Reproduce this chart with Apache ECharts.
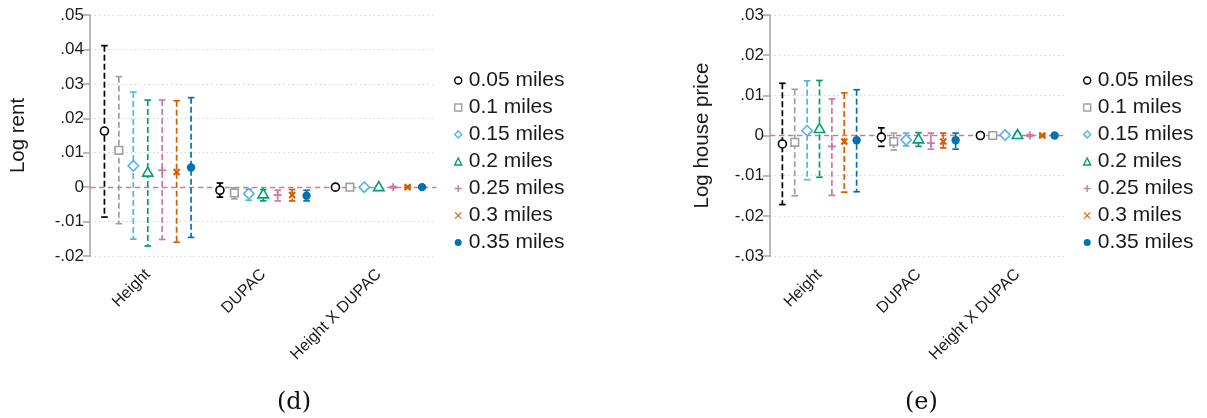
<!DOCTYPE html>
<html>
<head>
<meta charset="utf-8">
<script src="https://cdn.jsdelivr.net/npm/echarts@6/dist/echarts.min.js"></script>
<style>html,body{margin:0;padding:0;background:#fff}#c{width:1207px;height:418px}</style>
</head>
<body>
<div id="c"></div>
<script>
// ---- data ----
var categories = ['Height', 'DUPAC', 'Height X DUPAC'];
var seriesNames = ['0.05 miles', '0.1 miles', '0.15 miles', '0.2 miles', '0.25 miles', '0.3 miles', '0.35 miles'];
var colors = ['#000000', '#a0a0a0', '#56b4e9', '#009e73', '#cc79a7', '#d55e00', '#0072b2'];
var markers = ['hcircle', 'hsquare', 'hdiamond', 'htriangle', 'plus', 'cross', 'circle'];

// Log rent (panel d): per distance, values for Height, DUPAC, Height X DUPAC
var rentEst = [
  [0.0163, -0.0009, 0.0000],
  [0.0107, -0.0017, 0.0000],
  [0.0062, -0.0019, 0.0000],
  [0.0043, -0.0020, 0.0001],
  [0.0049, -0.0023, 0.0000],
  [0.0044, -0.0023, 0.0000],
  [0.0057, -0.0025, 0.0000]
];
var rentLo = [
  [-0.0087, -0.0029, -0.0003],
  [-0.0106, -0.0034, -0.0003],
  [-0.0151, -0.0038, -0.0003],
  [-0.0171, -0.0040, -0.0002],
  [-0.0152, -0.0040, -0.0002],
  [-0.0160, -0.0040, -0.0002],
  [-0.0146, -0.0040, -0.0002]
];
var rentHi = [
  [0.0411, 0.0012, 0.0003],
  [0.0321, -0.0002, 0.0003],
  [0.0276, -0.0006, 0.0003],
  [0.0253, -0.0007, 0.0004],
  [0.0253, -0.0009, 0.0002],
  [0.0251, -0.0007, 0.0002],
  [0.0260, -0.0009, 0.0002]
];

// Log house price (panel e)
var priceEst = [
  [-0.0021, -0.0004, 0.0000],
  [-0.0017, -0.0015, 0.0000],
  [0.0012, -0.0011, 0.0001],
  [0.0017, -0.0009, 0.0002],
  [-0.0027, -0.0019, 0.0000],
  [-0.0015, -0.0015, 0.0000],
  [-0.0012, -0.0012, 0.0000]
];
var priceLo = [
  [-0.0172, -0.0027, -0.0003],
  [-0.0150, -0.0036, -0.0003],
  [-0.0110, -0.0026, -0.0003],
  [-0.0104, -0.0027, -0.0002],
  [-0.0149, -0.0034, -0.0002],
  [-0.0141, -0.0031, -0.0002],
  [-0.0140, -0.0034, -0.0002]
];
var priceHi = [
  [0.0130, 0.0019, 0.0003],
  [0.0115, 0.0006, 0.0003],
  [0.0136, 0.0006, 0.0004],
  [0.0137, 0.0007, 0.0005],
  [0.0091, 0.0006, 0.0002],
  [0.0106, 0.0006, 0.0002],
  [0.0114, 0.0006, 0.0002]
];

var rentTicks = [-0.02, 0.05];
var priceTicks = [-0.03, 0.03];
var panelTitles = ['Log rent', 'Log house price'];
var panelLabels = ['(d)', '(e)'];

// ---- rendering ----
var chart = echarts.init(document.getElementById('c'), null, {renderer: 'canvas'});
var FONT = 'Liberation Sans, Arial, sans-serif';

function markerShape(kind, x, y, color) {
  var s = {stroke: color, lineWidth: 1.6, fill: '#fff'};
  switch (kind) {
    case 'hcircle': return {type: 'circle', shape: {cx: x, cy: y, r: 4}, style: s};
    case 'hsquare': return {type: 'rect', shape: {x: x - 3.8, y: y - 3.8, width: 7.6, height: 7.6}, style: s};
    case 'hdiamond': return {type: 'polygon', shape: {points: [[x, y - 5.2], [x + 5.2, y], [x, y + 5.2], [x - 5.2, y]]}, style: s};
    case 'htriangle': return {type: 'polygon', shape: {points: [[x, y - 5.2], [x + 5.2, y + 3.8], [x - 5.2, y + 3.8]]}, style: s};
    case 'plus': return {type: 'group', children: [
      {type: 'line', shape: {x1: x - 4, y1: y, x2: x + 4, y2: y}, style: {stroke: color, lineWidth: 1.8}},
      {type: 'line', shape: {x1: x, y1: y - 4, x2: x, y2: y + 4}, style: {stroke: color, lineWidth: 1.8}}]};
    case 'cross': return {type: 'group', children: [
      {type: 'line', shape: {x1: x - 3, y1: y - 3, x2: x + 3, y2: y + 3}, style: {stroke: color, lineWidth: 2.2}},
      {type: 'line', shape: {x1: x - 3, y1: y + 3, x2: x + 3, y2: y - 3}, style: {stroke: color, lineWidth: 2.2}}]};
    default: return {type: 'circle', shape: {cx: x, cy: y, r: 4.2}, style: {fill: color}};
  }
}

function makeRender(j) {
  return function (params, api) {
    var cat = api.value(0);
    var bw = api.size([1, 0])[0];
    var dx = (j - 3) * bw * 0.125;
    var p = api.coord([cat, api.value(1)]);
    var pl = api.coord([cat, api.value(2)]);
    var ph = api.coord([cat, api.value(3)]);
    var x = p[0] + dx;
    var c = colors[j];
    var cw = 3.3;
    return {type: 'group', children: [
      {type: 'line', shape: {x1: x, y1: ph[1], x2: x, y2: pl[1]}, style: {stroke: c, lineWidth: 1.7, lineDash: [6, 3]}},
      {type: 'line', shape: {x1: x - cw, y1: ph[1], x2: x + cw, y2: ph[1]}, style: {stroke: c, lineWidth: 1.7}},
      {type: 'line', shape: {x1: x - cw, y1: pl[1], x2: x + cw, y2: pl[1]}, style: {stroke: c, lineWidth: 1.7}},
      markerShape(markers[j], x, p[1], c)
    ]};
  };
}

var legendIcons = {
  hcircle: 'circle', hsquare: 'rect', hdiamond: 'diamond', htriangle: 'triangle',
  plus: 'path://M4,0h2v4h4v2h-4v4h-2v-4h-4v-2h4z',
  cross: 'path://M1,0L5,4L9,0L10,1L6,5L10,9L9,10L5,6L1,10L0,9L4,5L0,1z',
  circle: 'circle'
};
function legendData() {
  return seriesNames.map(function (n, j) {
    var hollow = markers[j].charAt(0) === 'h';
    return {
      name: n,
      icon: legendIcons[markers[j]],
      itemStyle: hollow ? {color: '#fff', borderColor: colors[j], borderWidth: 1.4} : {color: colors[j], borderWidth: 0}
    };
  });
}

function tickFmt(v) {
  if (Math.abs(v) < 1e-9) return '0';
  return v.toFixed(2).replace('0.', '.');
}

var grids = [
  {left: 90, top: 15, width: 346.5, height: 241},
  {left: 770, top: 15, width: 297, height: 241}
];
var yRanges = [rentTicks, priceTicks];
var nameGaps = [61, 57];
var ests = [rentEst, priceEst], los = [rentLo, priceLo], his = [rentHi, priceHi];

var xAxes = [], yAxes = [], series = [];
for (var g = 0; g < 2; g++) {
  xAxes.push({
    type: 'category', gridIndex: g, data: categories, boundaryGap: true,
    axisLine: {show: false}, axisTick: {show: false}, splitLine: {show: false},
    axisLabel: {rotate: 45, fontSize: 16, fontFamily: FONT, color: '#1a1a1a', margin: 16, interval: 0}
  });
  yAxes.push({
    type: 'value', gridIndex: g, min: yRanges[g][0], max: yRanges[g][1], interval: 0.01,
    name: panelTitles[g], nameLocation: 'middle', nameGap: nameGaps[g], nameRotate: 90,
    nameTextStyle: {fontSize: 20.5, fontFamily: FONT, color: '#1a1a1a'},
    axisLine: {show: true, lineStyle: {color: '#a8a8a8', width: 1.6}},
    axisTick: {show: true, length: 7, lineStyle: {color: '#a8a8a8', width: 1.6}},
    axisLabel: {formatter: tickFmt, fontSize: 17, fontFamily: FONT, color: '#1a1a1a', margin: 6},
    splitLine: {show: true, lineStyle: {color: '#d4d4d4', type: [1.5, 3], width: 1}}
  });
  for (var j = 0; j < 7; j++) {
    var data = [];
    for (var k = 0; k < 3; k++) data.push([k, ests[g][j][k], los[g][j][k], his[g][j][k]]);
    var s = {
      type: 'custom', name: seriesNames[j], xAxisIndex: g, yAxisIndex: g,
      renderItem: makeRender(j), data: data, itemStyle: {color: colors[j]},
      encode: {x: 0, y: [1, 2, 3]}, z: 3
    };
    if (j === 0) {
      s.markLine = {
        silent: true, symbol: ['none', 'none'], label: {show: false},
        lineStyle: {color: '#cc79a7', type: [5, 4], width: 1.4},
        data: [{yAxis: 0}], z: 1
      };
    }
    series.push(s);
  }
}

var legendCommon = {
  orient: 'vertical', itemWidth: 7, itemHeight: 7, itemGap: 6, padding: 0,
  textStyle: {fontSize: 21, fontFamily: FONT, color: '#1a1a1a', lineHeight: 21, padding: [0, 0, 0, 2]},
  selectedMode: false, data: legendData()
};

var option = {
  backgroundColor: '#fff',
  animation: false,
  grid: grids,
  xAxis: xAxes,
  yAxis: yAxes,
  legend: [
    Object.assign({left: 454, top: 70}, legendCommon),
    Object.assign({left: 1083, top: 70}, legendCommon)
  ],
  graphic: [
    {type: 'text', left: 277, top: 391, style: {text: panelLabels[0], font: '24px "DejaVu Serif", serif', fill: '#111'}},
    {type: 'text', left: 905, top: 391, style: {text: panelLabels[1], font: '24px "DejaVu Serif", serif', fill: '#111'}}
  ],
  series: series
};
chart.setOption(option);
</script>
</body>
</html>
